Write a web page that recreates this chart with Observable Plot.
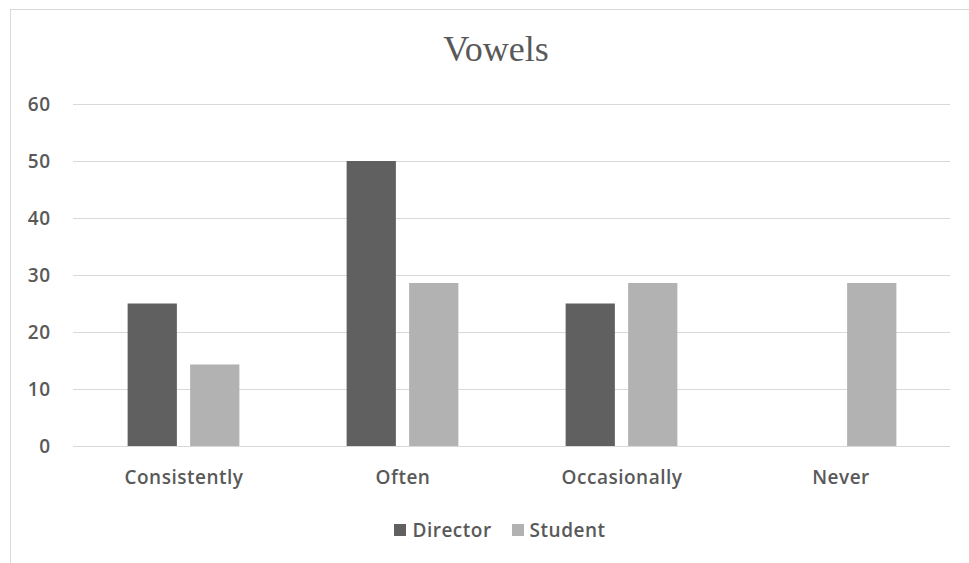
<!DOCTYPE html>
<html>
<head>
<meta charset="utf-8">
<script src="https://cdn.jsdelivr.net/npm/d3@7"></script>
<script src="https://cdn.jsdelivr.net/npm/@observablehq/plot@0.6"></script>
<style>
  html, body { margin: 0; padding: 0; background: #fff; width: 969px; height: 563px; overflow: hidden; }
  #frame { position: absolute; left: 10px; top: 9px; width: 1000px; height: 600px;
           border-top: 1px solid #d9d9d9; border-left: 1px solid #d9d9d9; }
  #title { position: absolute; left: 10px; width: 972px; top: 28px; text-align: center;
           font-family: "Liberation Serif", "DejaVu Serif", serif; font-size: 36px; color: #595959; }
  #chart { position: absolute; left: 0; top: 80px; }
  #legend { position: absolute; left: 0; width: 1000px; top: 516px; text-align: center;
            font-family: "Open Sans", sans-serif; font-size: 19px; font-weight: 600;
            letter-spacing: 0.5px; color: #595959; }
  #legend span.item { display: inline-flex; align-items: center; margin: 0 10px; }
  #legend span.sw { display: inline-block; width: 12px; height: 12px; margin-right: 6px; }
</style>
</head>
<body>
<div id="frame"></div>
<div id="title">Vowels</div>
<div id="chart"></div>
<div id="legend"></div>
<script>
const categories = ["Consistently", "Often", "Occasionally", "Never"];
const seriesNames = ["Director", "Student"];
const directorValues = [25, 50, 25, 0];
const studentValues = [14.3, 28.6, 28.6, 28.6];
const yTicks = [0, 10, 20, 30, 40, 50, 60];
const seriesColors = ["#606060", "#b2b2b2"];

const directorRows = categories.map((c, i) => ({category: c, series: "Director", value: directorValues[i]}));
const studentRows = categories.map((c, i) => ({category: c, series: "Student", value: studentValues[i]}));

// Each category band holds two side-by-side bars around its centre.
const bandWidth = (950 - 73) / categories.length;
const barWidth = 49.5;
const gap = 13;
const half = bandWidth / 2;

const plot = Plot.plot({
  width: 969,
  height: 420,
  marginLeft: 73,
  marginRight: 19,
  marginTop: 24,
  marginBottom: 54,
  style: {fontFamily: "'Open Sans', sans-serif", fontSize: "19px", fontWeight: 600,
          letterSpacing: "0.5px", color: "#595959", background: "transparent"},
  x: {domain: categories, padding: 0, label: null, tickSize: 0, tickPadding: 23.5},
  y: {domain: [0, 60], ticks: yTicks, label: null, tickSize: 0, tickPadding: 23, tickFormat: d => d},
  marks: [
    Plot.ruleY(yTicks, {stroke: "#d9d9d9", strokeWidth: 1}),
    Plot.barY(directorRows, {
      x: "category", y: "value", fill: seriesColors[0],
      insetLeft: half - gap / 2 - barWidth, insetRight: half + gap / 2
    }),
    Plot.barY(studentRows, {
      x: "category", y: "value", fill: seriesColors[1],
      insetLeft: half + gap / 2, insetRight: half - gap / 2 - barWidth
    })
  ]
});
plot.querySelectorAll("g[aria-label='x-axis tick label'] text, g[aria-label='y-axis tick label'] text")
  .forEach(t => t.setAttribute("fill", "#595959"));
document.getElementById("chart").appendChild(plot);

const legend = document.getElementById("legend");
legend.style.width = "1000px";
seriesNames.forEach((name, i) => {
  const item = document.createElement("span");
  item.className = "item";
  const sw = document.createElement("span");
  sw.className = "sw";
  sw.style.background = seriesColors[i];
  item.appendChild(sw);
  item.appendChild(document.createTextNode(name));
  legend.appendChild(item);
});
</script>
</body>
</html>
